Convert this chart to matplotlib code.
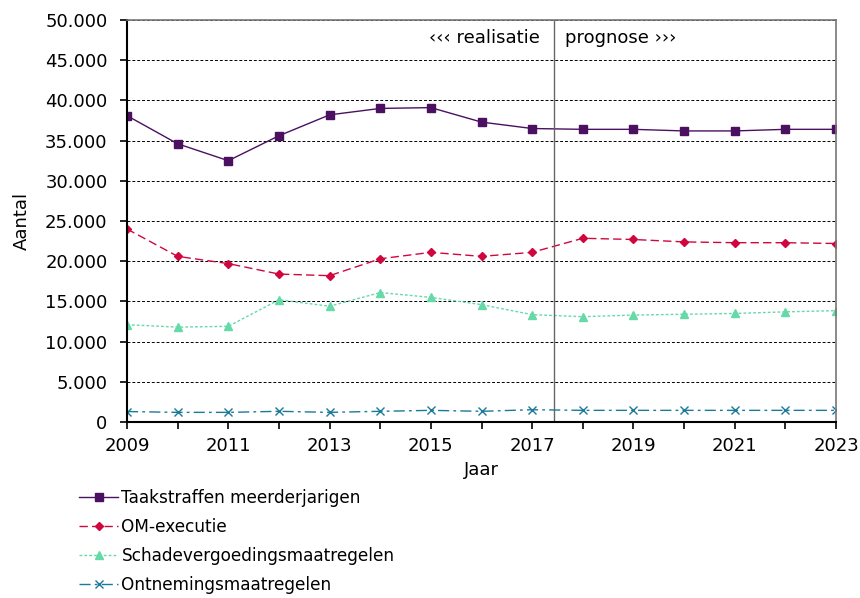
import matplotlib.pyplot as plt
from matplotlib.ticker import FuncFormatter, MultipleLocator

years = list(range(2009, 2024))
taakstraffen = [38100, 34600, 32500, 35600, 38200, 39000, 39100, 37300,
                36500, 36400, 36400, 36200, 36200, 36400, 36400]
om_executie = [24000, 20600, 19700, 18400, 18200, 20300, 21100, 20600,
               21100, 22850, 22700, 22400, 22300, 22300, 22200]
schade = [12100, 11800, 11900, 15200, 14400, 16100, 15500, 14600,
          13350, 13100, 13300, 13400, 13500, 13700, 13850]
ontneming = [1300, 1200, 1200, 1330, 1200, 1330, 1450, 1330,
             1530, 1450, 1450, 1450, 1450, 1450, 1450]

plt.rcParams['font.family'] = ['DejaVu Sans']
fs = 13

fig = plt.figure(figsize=(8.6, 5.98), dpi=100)
ax = fig.add_axes([0.1477, 0.2943, 0.9721 - 0.1477, 0.9666 - 0.2943])

ax.plot(years, taakstraffen, color='#4B1060', lw=1.0, marker='s', ms=6,
        label='Taakstraffen meerderjarigen')
ax.plot(years, om_executie, color='#D0073F', lw=1.0, ls=(0, (6, 3)), marker='D', ms=4.5,
        label='OM-executie')
ax.plot(years, schade, color='#66D9A8', lw=1.0, ls=(0, (2, 1.5)), marker='^', ms=6,
        label='Schadevergoedingsmaatregelen')
ax.plot(years, ontneming, color='#1A7A9A', lw=1.0, ls=(0, (8, 3, 2, 3)), marker='x', ms=6,
        label='Ontnemingsmaatregelen')

ax.set_xlim(2009, 2023)
ax.set_ylim(0, 50000)
ax.yaxis.set_major_locator(MultipleLocator(5000))
ax.yaxis.set_major_formatter(FuncFormatter(lambda v, p: f"{int(v):,}".replace(',', '.')))
ax.set_xticks(years)
ax.set_xticklabels([str(y) if y % 2 == 1 else '' for y in years])
ax.tick_params(labelsize=fs, direction='out', length=5, width=1.2)
ax.tick_params(axis='y', pad=9)
ax.tick_params(axis='x', pad=6)
ax.grid(axis='y', color='black', ls=(0, (3, 2)), lw=0.7)

for s in ['left', 'bottom']:
    ax.spines[s].set_linewidth(1.5)
    ax.spines[s].set_color('black')
for s in ['top', 'right']:
    ax.spines[s].set_linewidth(1.2)
    ax.spines[s].set_color('#777777')

ax.axvline(2017.43, color='#666666', lw=1.0)
ax.text(2017.15, 47800, '\u2039\u2039\u2039 realisatie', ha='right', va='center', fontsize=fs)
ax.text(2017.65, 47800, 'prognose \u203a\u203a\u203a', ha='left', va='center', fontsize=fs)

ax.set_xlabel('Jaar', fontsize=fs, labelpad=4)
ax.set_ylabel('Aantal', fontsize=fs, labelpad=10)

fig.legend(loc='upper left', bbox_to_anchor=(0.092, 0.183),
           bbox_transform=fig.transFigure, frameon=False, fontsize=12.2,
           borderpad=0, borderaxespad=0,
           handlelength=2.3, labelspacing=0.66, handletextpad=0.2)

fig.savefig('out.png', dpi=100)
